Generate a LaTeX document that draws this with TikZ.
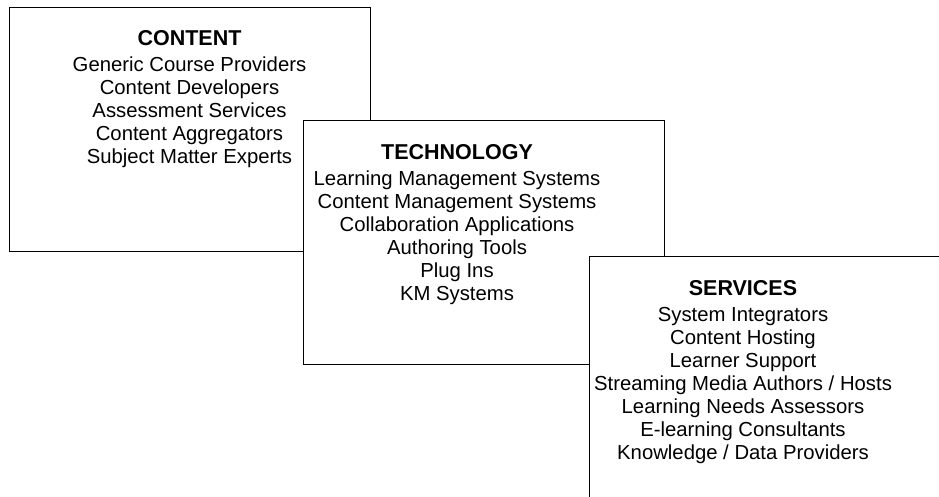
\documentclass[tikz,border=0pt]{standalone}
\usepackage{fontspec}
\setmainfont{Liberation Sans}
\newcommand{\paneltitle}[1]{{\fontsize{21.5}{23}\selectfont\bfseries #1}}
\begin{document}
\begin{tikzpicture}[x=1pt,y=-1pt,
  panel/.style={draw=black, fill=white, line width=1.2pt, minimum width=361pt, minimum height=244pt, anchor=north west, inner sep=0pt},
  txt/.style={align=center, inner sep=0pt, anchor=north, font=\fontsize{20.3}{23}\selectfont}]
\useasboundingbox (0,0) rectangle (939,497);
\node[panel] (contentbox) at (9,7) {};
\node[txt] (contenttxt) at (189.5,30.5) {\paneltitle{CONTENT}\\[3pt]
  Generic Course Providers\\ Content Developers\\ Assessment Services\\ Content Aggregators\\ Subject Matter Experts};
\node[panel] (techbox) at (303,120) {};
\node[txt] (techtxt) at (457,144.5) {\paneltitle{TECHNOLOGY}\\[3pt]
  Learning Management Systems\\ Content Management Systems\\ Collaboration Applications\\ Authoring Tools\\ Plug Ins\\ KM Systems};
\node[panel] (servbox) at (589,256) {};
\node[txt] (servtxt) at (743,280.5) {\paneltitle{SERVICES}\\[3pt]
  System Integrators\\ Content Hosting\\ Learner Support\\ Streaming Media Authors / Hosts\\ Learning Needs Assessors\\ E-learning Consultants\\ Knowledge / Data Providers};
\end{tikzpicture}
\end{document}
